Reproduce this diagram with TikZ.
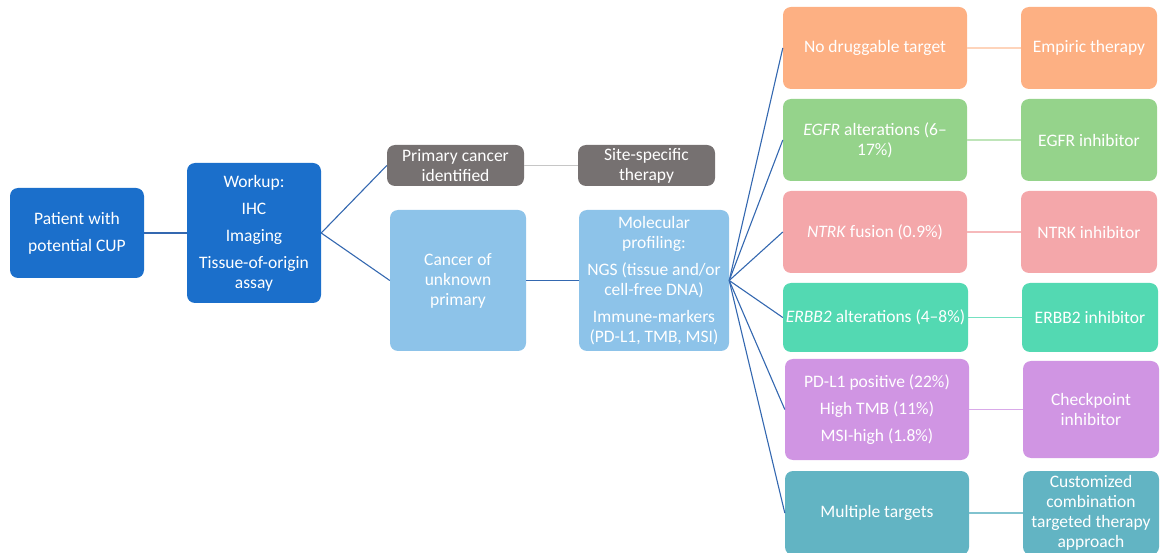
\documentclass[tikz,border=0pt]{standalone}
\usepackage{fontspec}
\setmainfont{Carlito}
\definecolor{cblue}{HTML}{1B6FCB}
\definecolor{cbrown}{HTML}{767171}
\definecolor{clight}{HTML}{8DC3E9}
\definecolor{corange}{HTML}{FDB083}
\definecolor{cgreen}{HTML}{95D38B}
\definecolor{cpink}{HTML}{F4A7AA}
\definecolor{cmint}{HTML}{53D9B2}
\definecolor{cpurple}{HTML}{D095E3}
\definecolor{cteal}{HTML}{62B4C3}
\definecolor{fanline}{HTML}{3468B0}
\tikzset{
  box/.style={rounded corners=8pt, text=white, align=center, inner sep=0pt,
    font=\fontsize{17.5}{20}\selectfont},
  fan/.style={draw=fanline, line width=1.1pt},
  pair/.style={line width=1.1pt},
}
\begin{document}
\begin{tikzpicture}[x=1pt,y=-1pt]
\useasboundingbox (0,0) rectangle (1160,553);
% left part
\node[box, fill=cblue, minimum width=134, minimum height=90] (pat) at (77,233) {Patient with\\[7pt]potential CUP};
\node[box, fill=cblue, minimum width=134, minimum height=140] (work) at (254,233) {Workup:\\[7pt]IHC\\[7pt]Imaging\\[7pt]Tissue-of-origin\\assay};
\node[box, fill=cbrown, minimum width=137, minimum height=41] (prim) at (455.5,165.5) {Primary cancer\\identified};
\node[box, fill=cbrown, minimum width=137, minimum height=41] (site) at (646.5,165.5) {Site-specific\\therapy};
\node[box, fill=clight, minimum width=136, minimum height=141] (cup) at (458,280.5) {Cancer of\\unknown\\primary};
\node[box, fill=clight, minimum width=150, minimum height=141] (mol) at (654,280.5) {Molecular\\profiling:\\[7pt]NGS (tissue and/or\\cell-free DNA)\\[7pt]Immune-markers\\(PD-L1, TMB, MSI)};
% targets
\node[box, fill=corange, minimum width=184, minimum height=82] (nod) at (875,48) {No druggable target};
\node[box, fill=cgreen, minimum width=184, minimum height=82] (egfr) at (875,140) {\textit{EGFR} alterations (6–\\17\%)};
\node[box, fill=cpink, minimum width=184, minimum height=82] (ntrk) at (875,232) {\textit{NTRK} fusion (0.9\%)};
\node[box, fill=cmint, minimum width=185, minimum height=69] (erbb) at (875.5,317.5) {\textit{ERBB2} alterations (4–8\%)};
\node[box, fill=cpurple, minimum width=184, minimum height=101] (pdl) at (877,409.5) {PD-L1 positive (22\%)\\[7pt]High TMB (11\%)\\[7pt]MSI-high (1.8\%)};
\node[box, fill=cteal, minimum width=184, minimum height=84] (mult) at (877,513) {Multiple targets};
% therapies
\node[box, fill=corange, minimum width=136, minimum height=82] (emp) at (1089,48) {Empiric therapy};
\node[box, fill=cgreen, minimum width=136, minimum height=82] (egfri) at (1089,140) {EGFR inhibitor};
\node[box, fill=cpink, minimum width=136, minimum height=82] (ntrki) at (1089,232) {NTRK inhibitor};
\node[box, fill=cmint, minimum width=136, minimum height=69] (erbbi) at (1090,317.5) {ERBB2 inhibitor};
\node[box, fill=cpurple, minimum width=136, minimum height=97] (chk) at (1091,409.5) {Checkpoint\\inhibitor};
\node[box, fill=cteal, minimum width=136, minimum height=84] (cust) at (1091,513) {Customized\\combination\\targeted therapy\\approach};
% connectors
\draw[fan] (pat.east) -- (work.west);
\draw[fan] (work.east) -- (prim.west);
\draw[fan] (work.east) -- (cup.west);
\draw[pair, draw=gray!45] (prim.east) -- (site.west);
\draw[fan] (cup.east) -- (mol.west);
\foreach \t in {nod,egfr,ntrk,erbb,pdl,mult}
  \draw[fan] (mol.east) -- (\t.west);
\draw[pair, draw=corange!55] (nod.east) -- (emp.west);
\draw[pair, draw=cgreen!60] (egfr.east) -- (egfri.west);
\draw[pair, draw=cpink!80] (ntrk.east) -- (ntrki.west);
\draw[pair, draw=cmint!80] (erbb.east) -- (erbbi.west);
\draw[pair, draw=cpurple!80] (pdl.east) -- (chk.west);
\draw[pair, draw=cteal!80] (mult.east) -- (cust.west);
\end{tikzpicture}
\end{document}
